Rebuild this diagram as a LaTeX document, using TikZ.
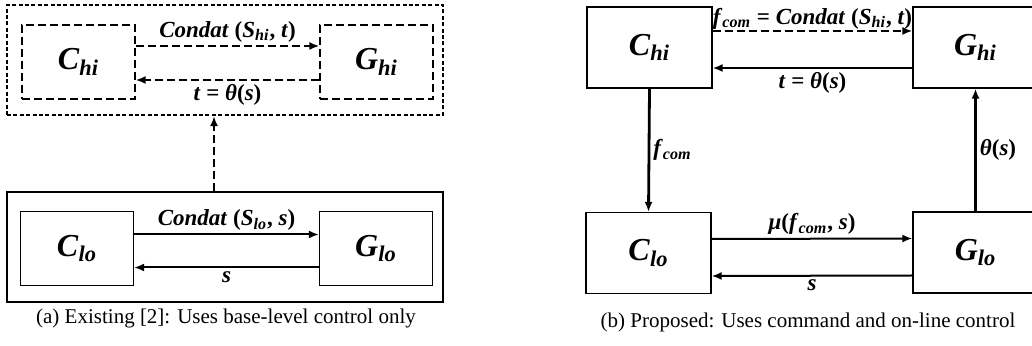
\documentclass[tikz,border=0pt]{standalone}
\usepackage{fontspec}
\setmainfont{Liberation Serif}
\usetikzlibrary{arrows.meta}
\newcommand{\subv}[2]{\textit{#1}\textsubscript{\textit{#2}}}
\begin{document}
\begin{tikzpicture}[x=0.5pt,y=-0.5pt,
  blockbox/.style={draw,line width=0.6pt,inner sep=0pt,minimum width=56.5pt,minimum height=37pt,
    font=\fontsize{16}{16}\selectfont\bfseries},
  bigbox/.style={blockbox,minimum width=62.5pt,minimum height=40.5pt},
  dashbox/.style={dash pattern=on 4pt off 2pt},
  framebox/.style={draw,line width=0.6pt,inner sep=0pt,minimum width=218pt,minimum height=55pt},
  flow/.style={line width=1pt,-{Latex[length=5pt,width=4pt]}},
  lbl/.style={font=\fontsize{11.5}{11.5}\selectfont\bfseries,inner sep=1.5pt},
  capt/.style={font=\fontsize{10.5}{10.5}\selectfont}]
\useasboundingbox (0,0) rectangle (1032,346);
\clip (0,0) rectangle (1032,346);

% (a) existing
\node[framebox,line width=1.1pt,dash pattern=on 2pt off 1.2pt] (hiframe) at (225,60) {};
\node[framebox] (loframe) at (225,247) {};
\node[blockbox,dashbox] (chi) at (78.5,62) {\subv{C}{hi}};
\node[blockbox,dashbox] (ghi) at (376.5,62) {\subv{G}{hi}};
\node[blockbox] (clo) at (77,248.5) {\subv{C}{lo}};
\node[blockbox] (glo) at (376,248.5) {\subv{G}{lo}};
\draw[flow,dashbox] ([yshift=8pt]chi.east) -- node[lbl,above]{\textit{Condat} (\subv{S}{hi}, \textit{t})} ([yshift=8pt]ghi.west);
\draw[flow,dashbox] ([yshift=-9pt]ghi.west) -- node[lbl,below]{\textit{t} = \textit{θ}(\textit{s})} ([yshift=-9pt]chi.east);
\draw[flow] ([yshift=7pt]clo.east) -- node[lbl,above]{\textit{Condat} (\subv{S}{lo}, \textit{s})} ([yshift=7pt]glo.west);
\draw[flow] ([yshift=-9.5pt]glo.west) -- node[lbl,below]{\textit{s}} ([yshift=-9.5pt]clo.east);
\draw[flow,dashbox] ([xshift=-5.5pt]loframe.north) -- ([xshift=-5.5pt]hiframe.south);
\node[capt] (capta) at (226,318) {(a) Existing [2]: Uses base-level control only};

% (b) proposed
\node[bigbox] (chib) at (649.5,47.5) {\subv{C}{hi}};
\node[bigbox] (ghib) at (975.5,47.5) {\subv{G}{hi}};
\node[bigbox] (clob) at (648.5,253) {\subv{C}{lo}};
\node[bigbox] (glob) at (975.5,252.5) {\subv{G}{lo}};
\draw[flow,dashbox] ([yshift=8.25pt]chib.east) -- node[lbl,above,inner sep=0.5pt]{\subv{f}{com} = \textit{Condat} (\subv{S}{hi}, \textit{t})} ([yshift=8.25pt]ghib.west);
\draw[flow] ([yshift=-10.25pt]ghib.west) -- node[lbl,below]{\textit{t} = \textit{θ}(\textit{s})} ([yshift=-10.25pt]chib.east);
\draw[flow] ([yshift=7pt]clob.east) -- node[lbl,above]{\textit{μ}(\subv{f}{com}, \textit{s})} ([yshift=7pt]glob.west);
\draw[flow] ([yshift=-11.5pt]glob.west) -- node[lbl,below]{\textit{s}} ([yshift=-11.5pt]clob.east);
\draw[flow,line width=1.4pt] (chib.south) -- node[lbl,right]{\subv{f}{com}} (clob.north);
\draw[flow,line width=1.4pt] (glob.north) -- node[lbl,right]{\textit{θ}(\textit{s})} (ghib.south);
\node[capt] (captb) at (808,322) {(b) Proposed: Uses command and on-line control};
\end{tikzpicture}
\end{document}
